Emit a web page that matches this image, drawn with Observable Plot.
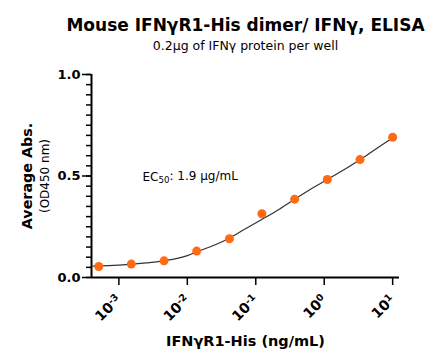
<!DOCTYPE html>
<html><head><meta charset="utf-8">
<script src="https://cdn.jsdelivr.net/npm/d3@7"></script>
<script src="https://cdn.jsdelivr.net/npm/@observablehq/plot@0.6"></script>
<style>body{margin:0;background:#fff;}</style>
</head><body><div id="chart"></div>
<script>
// ---- data ----
const concentration = [0.000508, 0.00152, 0.00457, 0.0137, 0.0412, 0.123, 0.370, 1.11, 3.33, 10];
const absorbance    = [0.054, 0.066, 0.082, 0.130, 0.191, 0.314, 0.386, 0.483, 0.581, 0.691];
// fitted curve
const fitX = [0.000417, 0.001, 0.00251, 0.00468, 0.01, 0.0138, 0.0251, 0.0417, 0.0708, 0.124, 0.224, 0.371, 0.631, 1.11, 2.0, 3.37, 5.62, 10];
const fitY = [0.056, 0.061, 0.072, 0.083, 0.108, 0.127, 0.160, 0.195, 0.240, 0.287, 0.338, 0.386, 0.435, 0.483, 0.533, 0.581, 0.632, 0.688];
// axes
const xDomain = [Math.pow(10, -3.4), Math.pow(10, 1.1)];
const xTickValues = [0.001, 0.01, 0.1, 1, 10];
const xTickExponents = ["-3", "-2", "-1", "0", "1"];
const yTickValues = [0, 0.5, 1.0];
const yTickLabels = ["0.0", "0.5", "1.0"];
const yMinorTicks = [0,0.05,0.1,0.15,0.2,0.25,0.3,0.35,0.4,0.45,0.5,0.55,0.6,0.65,0.7,0.75,0.8,0.85,0.9,0.95,1.0];
// texts
const title = "Mouse IFNγR1-His dimer/ IFNγ, ELISA";
const subtitle = "0.2μg of IFNγ protein per well";
const yLabel1 = "Average Abs.";
const yLabel2 = "(OD450 nm)";
const xLabel = "IFNγR1-His (ng/mL)";
const ecPrefix = "EC", ecSub = "50", ecRest = ": 1.9 μg/mL";

const points = concentration.map((c, i) => ({x: c, y: absorbance[i]}));
const fit = fitX.map((c, i) => ({x: c, y: fitY[i]}));

const chart = Plot.plot({
  width: 440, height: 363,
  marginTop: 74, marginBottom: 86, marginLeft: 91, marginRight: 41,
  style: {fontFamily: "DejaVu Sans", background: "#fff", color: "#000"},
  x: {type: "log", domain: xDomain, label: null},
  y: {domain: [0, 1], label: null},
  marks: [
    Plot.axisY(yMinorTicks, {tickSize: 5, strokeWidth: 1.5, tickFormat: () => ""}),
    Plot.axisY(yTickValues, {tickSize: 9, tickPadding: 2, strokeWidth: 1.5,
      tickFormat: d => yTickLabels[yTickValues.indexOf(d)], fontSize: 13, fontWeight: "bold"}),
    Plot.axisX(xTickValues, {tickSize: 8, tickPadding: 12, strokeWidth: 1.5, tickRotate: -45,
      tickFormat: d => "10^" + xTickExponents[xTickValues.indexOf(d)], fontSize: 14, fontWeight: "bold"}),
    Plot.ruleY([0], {strokeWidth: 2}),
    Plot.ruleX([xDomain[0]], {strokeWidth: 2}),
    Plot.line(fit, {x: "x", y: "y", stroke: "#333", strokeWidth: 1.2, curve: "monotone-x"}),
    Plot.dot(points, {x: "x", y: "y", r: 4.5, fill: "#ff6a13"}),
    Plot.text([title], {frameAnchor: "top", dy: -44, lineAnchor: "bottom", fontSize: 17, fontWeight: "bold"}),
    Plot.text([subtitle], {frameAnchor: "top", dy: -24.5, lineAnchor: "bottom", fontSize: 12.5}),
    Plot.text([yLabel1], {frameAnchor: "left", textAnchor: "middle", rotate: -90, dx: -60, lineAnchor: "bottom", fontSize: 14.3, fontWeight: "bold"}),
    Plot.text([yLabel2], {frameAnchor: "left", textAnchor: "middle", rotate: -90, dx: -43, lineAnchor: "bottom", fontSize: 12}),
    Plot.text([xLabel], {frameAnchor: "bottom", dy: 68, lineAnchor: "bottom", fontSize: 14.5, fontWeight: "bold"}),
    Plot.text([ecPrefix + ecSub + ecRest], {frameAnchor: "top-left", dx: 51, dy: 106, textAnchor: "start", lineAnchor: "bottom", fontSize: 12})
  ]
});
document.getElementById("chart").appendChild(chart);

// superscript exponents on x tick labels
d3.select(chart).selectAll('g[aria-label="x-axis tick label"] text').each(function() {
  const t = this.textContent;
  if (t.indexOf("^") < 0) return;
  const [base, exp] = t.split("^");
  this.textContent = base;
  d3.select(this).append("tspan").attr("dy", "-0.45em").attr("font-size", "0.68em").text(exp);
});
// subscript in EC50
d3.select(chart).selectAll("text").each(function() {
  if (this.textContent === ecPrefix + ecSub + ecRest) {
    this.textContent = ecPrefix;
    const s = d3.select(this);
    s.append("tspan").attr("dy", "0.3em").attr("font-size", "0.72em").text(ecSub);
    s.append("tspan").attr("dy", "-0.3em").text(ecRest);
  }
});
</script>
</body></html>
